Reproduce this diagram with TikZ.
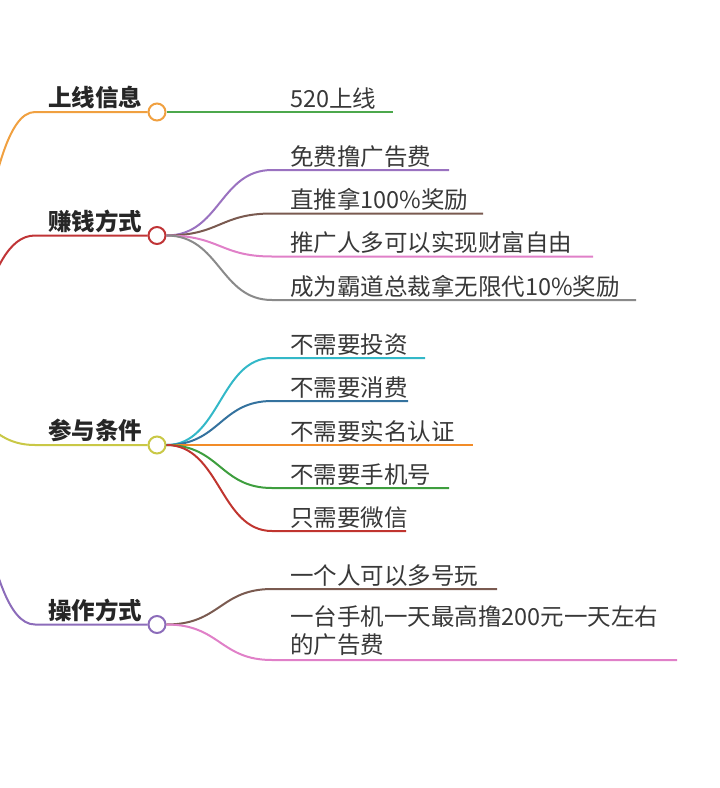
\documentclass[tikz,border=0pt]{standalone}
\usepackage{fontspec}
\setmainfont{Noto Sans CJK SC}
\definecolor{cOrange}{HTML}{F0A040}
\definecolor{cGreen}{HTML}{4CA84C}
\definecolor{cRed}{HTML}{C03436}
\definecolor{cPurple}{HTML}{9A72C0}
\definecolor{cBrown}{HTML}{7A5A50}
\definecolor{cPink}{HTML}{E080C8}
\definecolor{cGray}{HTML}{8A8A8A}
\definecolor{cYG}{HTML}{C9C846}
\definecolor{cCyan}{HTML}{33B8C8}
\definecolor{cBlue}{HTML}{34729E}
\definecolor{cOrange2}{HTML}{F28C28}
\definecolor{cGreen2}{HTML}{3E9E3E}
\definecolor{cRed2}{HTML}{C0352F}
\definecolor{cPurple2}{HTML}{8C6CBA}
\begin{document}
\begin{tikzpicture}[x=1pt,y=-1pt,
  br/.style={line width=2pt},
  hub/.style={circle,draw,line width=2pt,fill=white,minimum size=17pt,inner sep=0pt},
  maintext/.style={font=\fontsize{23.5}{28}\selectfont\bfseries,text=black!85,anchor=base east,inner sep=0pt},
  leaftext/.style={font=\fontsize{23.5}{28}\selectfont,text=black!78,anchor=base west,inner sep=0pt,align=left},
]
\useasboundingbox (0,0) rectangle (720,788);
\clip (0,0) rectangle (720,788);
\coordinate (root) at (-76,390);

% hubs
\node[hub,draw=cOrange] (h1) at (157,112) {};
\node[hub,draw=cRed] (h2) at (157,235.5) {};
\node[hub,draw=cYG] (h3) at (157,445) {};
\node[hub,draw=cPurple2] (h4) at (157,624.5) {};

% main labels
\node[maintext] (t1) at (142.5,106.5) {上线信息};
\node[maintext] (t2) at (142.5,230) {赚钱方式};
\node[maintext] (t3) at (142.5,439.5) {参与条件};
\node[maintext] (t4) at (142.5,619) {操作方式};

% left branches
\draw[br,cOrange] (root) .. controls (-20,390) and (-20,112) .. (35,112) -- (h1);
\draw[br,cRed] (root) .. controls (-20,390) and (-20,235.5) .. (35,235.5) -- (h2);
\draw[br,cYG] (root) .. controls (-20,390) and (-20,445) .. (35,445) -- (h3);
\draw[br,cPurple2] (root) .. controls (-20,390) and (-20,624.5) .. (35,624.5) -- (h4);

% leaves: 上线信息
\node[leaftext] (l11) at (290,107) {520上线};
\coordinate (e11) at (393,112);
\draw[br,cGreen] (h1) -- (e11);

% leaves: 赚钱方式
\node[leaftext] (l21) at (290,165) {免费撸广告费};
\node[leaftext] (l22) at (290,208.5) {直推拿100\%奖励};
\node[leaftext] (l23) at (290,251.5) {推广人多可以实现财富自由};
\node[leaftext] (l24) at (290,295) {成为霸道总裁拿无限代10\%奖励};
\coordinate (e21) at (449,170);
\coordinate (e22) at (483,213.5);
\coordinate (e23) at (593,256.5);
\coordinate (e24) at (636,300);
\draw[br,cPurple] (h2.east) .. controls (220,235.5) and (220,170) .. (272,170) -- (e21);
\draw[br,cBrown] (h2.east) .. controls (220,235.5) and (220,213.5) .. (272,213.5) -- (e22);
\draw[br,cPink] (h2.east) .. controls (220,235.5) and (220,256.5) .. (272,256.5) -- (e23);
\draw[br,cGray] (h2.east) .. controls (220,235.5) and (220,300) .. (272,300) -- (e24);

% leaves: 参与条件
\node[leaftext] (l31) at (290,353) {不需要投资};
\node[leaftext] (l32) at (290,396) {不需要消费};
\node[leaftext] (l33) at (290,440) {不需要实名认证};
\node[leaftext] (l34) at (290,483) {不需要手机号};
\node[leaftext] (l35) at (290,526) {只需要微信};
\coordinate (e31) at (425,358);
\coordinate (e32) at (408,401);
\coordinate (e33) at (473,445);
\coordinate (e34) at (449,488);
\coordinate (e35) at (406,531);
\draw[br,cCyan] (h3.east) .. controls (220,445) and (220,358) .. (272,358) -- (e31);
\draw[br,cBlue] (h3.east) .. controls (220,445) and (220,401) .. (272,401) -- (e32);
\draw[br,cOrange2] (h3.east) -- (e33);
\draw[br,cGreen2] (h3.east) .. controls (220,445) and (220,488) .. (272,488) -- (e34);
\draw[br,cRed2] (h3.east) .. controls (220,445) and (220,531) .. (272,531) -- (e35);

% leaves: 操作方式
\node[leaftext] (l41) at (290,584) {一个人可以多号玩};
\node[leaftext] (l42) at (290,653.5) {一台手机一天最高撸200元一天左右\\的广告费};
\coordinate (e41) at (497,589);
\coordinate (e42) at (677,660);
\draw[br,cBrown] (h4.east) .. controls (220,624.5) and (220,589) .. (272,589) -- (e41);
\draw[br,cPink] (h4.east) .. controls (220,624.5) and (220,660) .. (272,660) -- (e42);
\end{tikzpicture}
\end{document}
